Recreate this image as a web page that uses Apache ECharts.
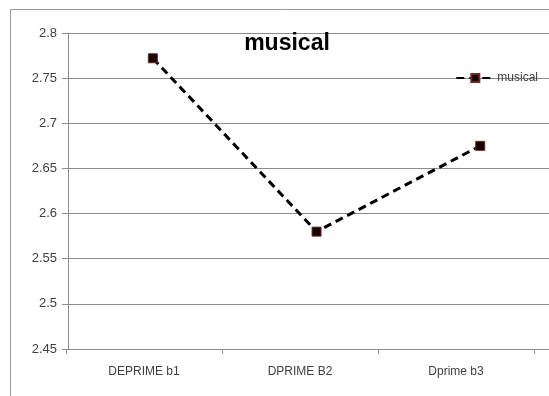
<!DOCTYPE html>
<html><head><meta charset="utf-8">
<script src="https://cdn.jsdelivr.net/npm/echarts@6/dist/echarts.min.js"></script>
<style>html,body{margin:0;padding:0;background:#fff}#c{width:549px;height:396px}</style>
</head><body><div id="c"></div>
<script>
const categories = ['DEPRIME b1', 'DPRIME B2', 'Dprime b3'];
const seriesName = 'musical';
const values = [2.772, 2.580, 2.675];
const yTicks = [2.45, 2.5, 2.55, 2.6, 2.65, 2.7, 2.75, 2.8];

const FONT = '"Liberation Sans", Arial, sans-serif';
const TXT = '#404040';
const GRID_C = '#8c8c8c';
const yMin = yTicks[0], yMax = yTicks[yTicks.length - 1];
const points = values.map((v, i) => [i, v]);

const chart = echarts.init(document.getElementById('c'), null, {renderer: 'canvas'});
chart.setOption({
  animation: false,
  backgroundColor: '#fff',
  title: {
    text: seriesName, left: 282, top: 27, textAlign: 'center',
    textStyle: {fontFamily: FONT, fontSize: 23, fontWeight: 'bold', color: '#000'}
  },
  legend: {
    right: 6, top: 67, itemWidth: 38, itemHeight: 10, itemGap: 2,
    data: [seriesName],
    textStyle: {fontFamily: FONT, fontSize: 12, color: TXT, padding: [0,0,0,-2]}
  },
  graphic: [{
    type: 'rect', shape: {x: 10.5, y: 9.5, width: 600, height: 500},
    style: {fill: null, stroke: '#999', lineWidth: 1}, silent: true
  }],
  grid: [
    {left: 68, right: 0, top: 33, bottom: 47},
    {left: 66, width: 468, top: 33, bottom: 47},
    {left: 71, right: 0, top: 33, bottom: 47}
  ],
  xAxis: [
    {gridIndex: 0, type: 'category', data: categories, show: false},
    {gridIndex: 1, type: 'category', data: categories, boundaryGap: true,
     axisLine: {show: false},
     axisTick: {show: true, length: 5, lineStyle: {color: GRID_C}},
     axisLabel: {fontFamily: FONT, fontSize: 12, color: TXT, margin: 17},
     splitLine: {show: false}},
    {gridIndex: 2, type: 'value', min: -0.5, max: 2.42, show: false}
  ],
  yAxis: [
    {gridIndex: 0, type: 'value', min: yMin, max: yMax, interval: 0.05,
     axisLine: {show: true, lineStyle: {color: GRID_C}},
     axisTick: {show: true, length: 6, lineStyle: {color: GRID_C}},
     axisLabel: {fontFamily: FONT, fontSize: 13, color: TXT, margin: 11,
       formatter: v => String(parseFloat(v.toFixed(2)))},
     splitLine: {show: true, lineStyle: {color: GRID_C, width: 1}}},
    {gridIndex: 1, type: 'value', min: yMin, max: yMax, show: false},
    {gridIndex: 2, type: 'value', min: yMin, max: yMax, show: false}
  ],
  series: [{
    name: seriesName, type: 'line', xAxisIndex: 2, yAxisIndex: 2,
    data: points, symbol: 'rect', symbolSize: 9,
    lineStyle: {color: '#000', width: 3, type: [8, 5]},
    itemStyle: {color: '#1a0000', borderColor: '#6a2a2a', borderWidth: 1}
  }]
});
</script></body></html>
